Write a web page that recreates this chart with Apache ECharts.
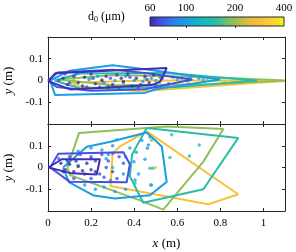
<!DOCTYPE html>
<html><head><meta charset="utf-8">
<script src="https://cdn.jsdelivr.net/npm/echarts@6/dist/echarts.min.js"></script>
<style>html,body{margin:0;padding:0;background:#fff}#c{width:296px;height:252px}</style>
</head><body><div id="c"></div>
<script>
// ---- data ----
const cbarTicks = [60, 100, 200, 400];
const cbarRange = [60, 400];
// group d0 values (µm), drawn large -> small
const groupD0 = [290, 194, 149, 100, 70, 62];

const topHulls = [
  [[0.1,-0.01],[0.45,0.0],[0.85,0.0],[1.1,-0.002],[0.97,-0.01],[0.43,-0.05],[0.15,-0.028],[0.1,-0.01]],
  [[0.05,0.005],[0.3,0.025],[0.75,0.015],[1.1,0.0],[0.75,-0.017],[0.3,-0.022],[0.05,0.005]],
  [[0.03,0.0],[0.15,0.032],[0.55,0.035],[0.97,0.0],[0.6,-0.03],[0.15,-0.037],[0.03,0.0]],
  [[0.01,0.0],[0.1,0.045],[0.3,0.07],[0.45,0.052],[0.8,0.005],[0.5,-0.04],[0.45,-0.057],[0.033,-0.067],[0.01,0.0]],
  [[0.0,0.0],[0.045,0.037],[0.3,0.05],[0.45,0.035],[0.67,0.005],[0.45,-0.04],[0.2,-0.047],[0.04,-0.03],[0.0,0.0]],
  [[0.002,-0.003],[0.033,0.033],[0.551,0.057],[0.52,-0.006],[0.481,-0.021],[0.102,-0.041],[0.002,-0.003]]
];
const topDots = [
  [[0.27,-0.02],[0.52,-0.02],[0.65,-0.01],[0.82,-0.003],[0.86,-0.003],[0.9,-0.002]],
  [[0.12,0.0],[0.25,0.005],[0.45,0.01]],
  [[0.2,0.012],[0.35,-0.01],[0.5,0.0],[0.6,0.005],[0.65,0.0],[0.72,0.005],[0.78,0.003]],
  [[0.19,0.005],[0.23,0.02],[0.26,-0.01],[0.31,0.0],[0.36,0.02],[0.4,0.0],[0.44,-0.005],[0.48,0.01],[0.52,0.015],[0.58,0.015],[0.62,0.012],[0.66,0.015],[0.7,0.01],[0.74,0.012]],
  [[0.05,0.0],[0.08,0.03],[0.1,-0.01],[0.13,0.035],[0.18,-0.03],[0.21,0.01],[0.24,-0.03],[0.29,0.01],[0.33,-0.035],[0.38,0.015],[0.42,-0.035],[0.46,0.005],[0.5,-0.025],[0.53,0.01],[0.56,-0.015]],
  [[0.07,0.01],[0.09,-0.02],[0.12,0.02],[0.14,-0.01],[0.17,0.015],[0.2,0.03],[0.22,-0.015],[0.25,0.0],[0.27,0.02],[0.3,-0.02],[0.32,0.025],[0.35,-0.005],[0.37,0.03],[0.39,-0.025],[0.41,0.01],[0.43,-0.02],[0.45,0.02],[0.47,-0.01],[0.49,0.025],[0.16,-0.025],[0.28,-0.03],[0.34,0.01]]
];

const botHulls = [
  [[0.458,0.166],[0.883,-0.123],[0.744,-0.169],[0.29,-0.085],[0.3,0.066],[0.334,0.097],[0.458,0.166]],
  [[0.09,0.0],[0.144,0.159],[0.551,0.189],[0.814,0.177],[0.721,0.027],[0.535,-0.194],[0.427,-0.151],[0.102,-0.035],[0.09,0.0]],
  [[0.458,0.182],[0.883,0.136],[0.721,-0.1],[0.442,-0.162],[0.38,-0.04],[0.39,0.06],[0.458,0.182]],
  [[0.07,0.0],[0.18,0.095],[0.29,0.118],[0.458,0.161],[0.528,0.097],[0.551,-0.066],[0.473,-0.128],[0.311,-0.143],[0.213,-0.129],[0.097,-0.067],[0.07,0.0]],
  [[0.01,0.0],[0.048,0.063],[0.35,0.07],[0.38,0.015],[0.365,-0.068],[0.1,-0.065],[0.01,0.0]],
  [[0.002,0.0],[0.064,0.038],[0.241,0.038],[0.226,-0.032],[0.11,-0.027],[0.002,0.0]]
];
const botDots = [
  [[0.5,0.0]],
  [[0.48,0.125]],
  [[0.574,0.151],[0.702,0.104],[0.656,0.053],[0.566,0.046],[0.473,-0.004],[0.486,-0.004],[0.404,-0.071],[0.477,-0.081],[0.473,0.14],[0.3,0.0],[0.14,0.01],[0.2,0.04]],
  [[0.14,0.075],[0.2,0.09],[0.25,0.08],[0.3,0.1],[0.32,0.128],[0.27,0.04],[0.29,-0.06],[0.26,-0.09],[0.22,-0.1],[0.31,-0.11],[0.36,-0.1],[0.38,0.09],[0.41,0.07],[0.435,0.124],[0.466,0.104],[0.461,0.089],[0.45,0.038],[0.399,0.027],[0.404,-0.058],[0.48,-0.08],[0.42,-0.03],[0.35,-0.03],[0.36,0.05],[0.17,-0.08],[0.28,0.06]],
  [[0.05,0.04],[0.1,0.05],[0.15,0.06],[0.2,0.05],[0.25,0.06],[0.28,0.03],[0.3,-0.02],[0.32,-0.05],[0.26,-0.045],[0.2,-0.05],[0.12,-0.05],[0.33,0.05],[0.27,0.0],[0.24,-0.03],[0.3,0.065],[0.22,0.03],[0.35,0.02]],
  [[0.06,0.02],[0.08,-0.01],[0.1,0.015],[0.12,-0.02],[0.14,0.005],[0.16,-0.015],[0.18,0.02],[0.2,-0.01],[0.22,-0.02],[0.09,0.03],[0.13,0.03],[0.17,-0.03],[0.07,-0.02]]
];

// ---- colormap (parula-like) ----
const cmapStops = [[0,'#3e26a8'],[0.08,'#4450e8'],[0.18,'#2d80ef'],[0.28,'#1aa0e0'],[0.38,'#10b8c2'],[0.5,'#2fbea0'],[0.62,'#90c055'],[0.74,'#e3bb42'],[0.85,'#fdc23a'],[0.95,'#f3e028'],[1,'#f9fb0e']];
function hex2rgb(h){return [parseInt(h.slice(1,3),16),parseInt(h.slice(3,5),16),parseInt(h.slice(5,7),16)];}
function cmap(t){
  t=Math.max(0,Math.min(1,t));
  for(let i=1;i<cmapStops.length;i++){
    if(t<=cmapStops[i][0]){
      const a=cmapStops[i-1],b=cmapStops[i];const f=(t-a[0])/(b[0]-a[0]);
      const ca=hex2rgb(a[1]),cb=hex2rgb(b[1]);
      return 'rgb('+ca.map((v,k)=>Math.round(v+(cb[k]-v)*f)).join(',')+')';
    }
  }
  return cmapStops[cmapStops.length-1][1];
}
function d0Color(d){return cmap(Math.log(d/cbarRange[0])/Math.log(cbarRange[1]/cbarRange[0]));}

// ---- chart ----
const FONT='Liberation Serif';
const AX='#262626';
const chart=echarts.init(document.getElementById('c'),null,{renderer:'canvas'});
const L=48,W=237,H=87;
const grids=[{left:L,width:W,top:37,height:H,outerBoundsMode:'none',containLabel:false},
  {left:L,width:W,top:124,height:H,outerBoundsMode:'none',containLabel:false},
  {left:150,width:134,top:17,height:9,outerBoundsMode:'none',containLabel:false}];
function xAx(g,pos,labels,name){
  return {type:'value',gridIndex:g,position:pos,min:0,max:1.1,interval:0.2,
    axisLine:{show:true,onZero:false,lineStyle:{color:AX,width:1}},
    axisTick:{show:true,inside:true,length:3,lineStyle:{color:AX}},
    splitLine:{show:false},
    axisLabel:{show:labels,showMaxLabel:false,margin:7,fontFamily:FONT,fontSize:11,color:'#000'},
    name:name||'',nameLocation:'middle',nameGap:26,
    nameTextStyle:{fontFamily:FONT,fontSize:13,color:'#000',rich:{i:{fontFamily:FONT,fontSize:13,fontStyle:'italic',color:'#000'}}}};
}
function yAx(g,pos,labels,name){
  return {type:'value',gridIndex:g,position:pos,min:-0.2,max:0.2,interval:0.1,
    axisLine:{show:true,onZero:false,lineStyle:{color:AX,width:1}},
    axisTick:{show:true,inside:true,length:3,lineStyle:{color:AX}},
    splitLine:{show:false},
    axisLabel:{show:labels,showMaxLabel:false,showMinLabel:false,margin:5,fontFamily:FONT,fontSize:11,color:'#000'},
    name:name||'',nameLocation:'middle',nameGap:25,nameRotate:90,
    nameTextStyle:{fontFamily:FONT,fontSize:13,color:'#000',rich:{i:{fontFamily:FONT,fontSize:13,fontStyle:'italic',color:'#000'}}}};
}
const xAxis=[xAx(0,'bottom',false),xAx(0,'top',false),xAx(1,'bottom',true,'{i|x} (m)'),xAx(1,'top',false),
  {type:'log',gridIndex:2,position:'top',min:cbarRange[0],max:cbarRange[1],logBase:10,
   axisLine:{show:false},splitLine:{show:false},
   axisTick:{show:true,inside:true,length:2,customValues:[100,200],lineStyle:{color:AX}},
   axisLabel:{show:true,customValues:cbarTicks,margin:3,fontFamily:FONT,fontSize:11,color:'#000'}}];
const yAxis=[yAx(0,'left',true,'{i|y} (m)'),yAx(0,'right',false),yAx(1,'left',true,'{i|y} (m)'),yAx(1,'right',false),
  {type:'value',gridIndex:2,min:0,max:1,show:false}];

const series=[];
function addPanel(hulls,dots,xi,yi){
  hulls.forEach((h,k)=>{
    const c=d0Color(groupD0[k]);
    series.push({type:'line',xAxisIndex:xi,yAxisIndex:yi,data:h,symbol:'none',silent:true,animation:false,
      lineStyle:{color:c,width:2},z:2+k});
    series.push({type:'scatter',xAxisIndex:xi,yAxisIndex:yi,data:dots[k],symbolSize:3.5,silent:true,animation:false,
      itemStyle:{color:c},z:2+k});
  });
}
addPanel(topHulls,topDots,0,0);
addPanel(botHulls,botDots,2,2);
const gradStops=[];
for(let i=0;i<=40;i++){gradStops.push({offset:i/40,color:cmap(i/40)});}
series.push({type:'custom',xAxisIndex:4,yAxisIndex:4,data:[[cbarRange[0],cbarRange[1]]],silent:true,animation:false,
  renderItem:function(params,api){
    const a=api.coord([api.value(0),1]),b=api.coord([api.value(1),0]);
    return {type:'rect',shape:{x:a[0],y:a[1],width:b[0]-a[0],height:b[1]-a[1]},
      style:{fill:new echarts.graphic.LinearGradient(0,0,1,0,gradStops),stroke:AX,lineWidth:1}};
  }});

chart.setOption({
  animation:false,
  grid:grids,xAxis:xAxis,yAxis:yAxis,series:series,
  graphic:[{type:'text',left:88,top:11,style:{text:'d{s|0} (μm)',fontFamily:FONT,fontSize:12,fill:'#000',
    rich:{s:{fontFamily:FONT,fontSize:8,fill:'#000',verticalAlign:'bottom',padding:[6,0,0,0]}}}}]
});
</script></body></html>
